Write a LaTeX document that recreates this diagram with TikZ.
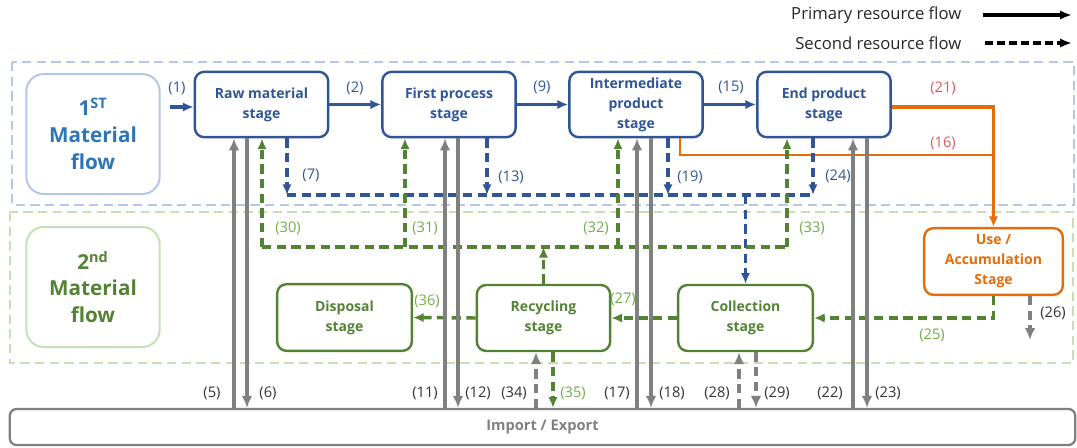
\documentclass[tikz,border=0pt]{standalone}
\usepackage{fontspec}
\setmainfont{Open Sans}
\usetikzlibrary{arrows.meta}
\definecolor{stblue}{RGB}{47,85,151}
\definecolor{zoneblue}{RGB}{180,199,231}
\definecolor{flowblue}{RGB}{46,117,182}
\definecolor{stgreen}{RGB}{84,130,53}
\definecolor{zonegreen}{RGB}{197,224,180}
\definecolor{lblgreen}{RGB}{112,173,71}
\definecolor{usorange}{RGB}{228,108,10}
\definecolor{lblred}{RGB}{220,90,90}
\definecolor{iogray}{RGB}{128,128,128}
\definecolor{lblgray}{RGB}{50,50,50}

\begin{document}
\begin{tikzpicture}[
x=0.75pt, y=-0.75pt,
stage/.style = {
	draw=stblue, line width=1.8pt, rounded corners=7pt,
	align=center, text=stblue, inner sep=0pt,
	minimum width=100pt, minimum height=49pt,
	font=\fontsize{10.5}{15}\selectfont\bfseries
	},
gstage/.style = {
	stage, draw=stgreen, text=stgreen
	},
ostage/.style = {
	stage, draw=usorange, text=usorange
	},
flowbox/.style = {
	draw=zoneblue, line width=1.5pt, rounded corners=13pt,
	align=center, text=flowblue, inner sep=0pt,
	minimum width=100pt, minimum height=90pt,
	font=\fontsize{15.5}{20}\selectfont\bfseries
	},
iobox/.style = {
	draw=iogray, line width=1.7pt, rounded corners=5pt,
	text=iogray, inner sep=0pt,
	minimum width=799pt, minimum height=27pt,
	font=\fontsize{11}{13}\selectfont\bfseries
	},
lbl/.style = {
	font=\fontsize{11}{13}\selectfont, inner sep=1pt
	},
mainArr/.style = {
	-{Latex[length=8pt,width=7pt]}, line width=2.6pt, stblue
	},
blueDash/.style = {
	line width=2.6pt, stblue, dash pattern=on 7pt off 4pt
	},
blueDashArr/.style = {
	blueDash, -{Latex[length=8pt,width=7pt]}
	},
greenDash/.style = {
	line width=2.6pt, stgreen, dash pattern=on 7pt off 4pt
	},
greenDashArr/.style = {
	greenDash, -{Latex[length=8pt,width=7pt]}
	},
useArr/.style = {
	-{Latex[length=8pt,width=7pt]}, line width=2.6pt, usorange
	},
useThin/.style = {
	line width=1.8pt, usorange
	},
grayArr/.style = {
	-{Latex[length=9pt,width=8pt]}, line width=2.8pt, iogray
	},
grayDashArr/.style = {
	grayArr, dash pattern=on 7pt off 4pt
	},
legArr/.style = {
	-{Latex[length=9pt,width=7pt]}, line width=2.6pt, black
	}
]
\useasboundingbox (0,0) rectangle (1077,447);

% ZONES
\draw [zoneblue, line width=1.2pt, dash pattern=on 7pt off 4pt] (12,62) rectangle (1074,205);
\draw [zonegreen, line width=1.2pt, dash pattern=on 7pt off 4pt] (10,212) rectangle (1073,363);

% LEGEND
\node [font=\fontsize{12.5}{15}\selectfont, anchor=east, text=black!85] (legP) at (966,15) {Primary resource flow};
\node [font=\fontsize{12.5}{15}\selectfont, anchor=east, text=black!85] (legS) at (966,43) {Second resource flow};
\coordinate (legPa) at (983,15);
\coordinate (legPb) at (1072,15);
\coordinate (legSa) at (985,43);
\coordinate (legSb) at (1072,43);
\draw [legArr] (legPa) -- (legPb);
\draw [legArr, dash pattern=on 6pt off 3pt] (legSa) -- (legSb);

% FLOW NODES
\node [flowbox] (flowA) at (93,134) {1\textsuperscript{ST}\\Material\\flow};
\node [flowbox, draw=zonegreen, text=stgreen] (flowB) at (93,287) {2\textsuperscript{nd}\\Material\\flow};

% STAGE NODES
\node [stage] (raw) at (261.5,104.5) {Raw material\\stage};
\node [stage] (first) at (449,104.5) {First process\\stage};
\node [stage] (inter) at (636,104.5) {Intermediate\\product\\stage};
\node [stage] (endp) at (824,104.5) {End product\\stage};
\node [ostage, minimum width=104pt, minimum height=50pt] (use) at (993.5,261.5) {Use /\\Accumulation\\Stage};
\node [gstage, minimum width=101pt, minimum height=50pt] (disp) at (344.5,317.5) {Disposal\\stage};
\node [gstage, minimum height=49.5pt] (recy) at (543.5,318) {Recycling\\stage};
\node [gstage, minimum width=101pt, minimum height=49.5pt] (coll) at (745.5,318) {Collection\\stage};
\node [iobox] (io) at (542.5,427) {Import / Export};

% HELPER COORDINATES
\coordinate (in1) at (170,107);
\coordinate (j16) at (995,155);
\coordinate (b7) at (287,195);
\coordinate (b13) at (487,195);
\coordinate (b19) at (668,195);
\coordinate (b24) at (813,195);
\coordinate (g30) at (262,247);
\coordinate (g31) at (405,247);
\coordinate (g32) at (618,247);
\coordinate (g33) at (787,247);
\coordinate (x5) at (234,0);
\coordinate (x6) at (247,0);
\coordinate (x11) at (445,0);
\coordinate (x12) at (458,0);
\coordinate (x17) at (637,0);
\coordinate (x18) at (651,0);
\coordinate (x22) at (853,0);
\coordinate (x23) at (867,0);
\coordinate (x34) at (536,0);
\coordinate (x35) at (553,0);
\coordinate (x28) at (739,0);
\coordinate (x29) at (756,0);
\coordinate (e26) at (1030,340);

% PRIMARY PATHS
\draw [mainArr] (in1) -- (raw.west |- in1);
\path [mainArr] (raw) edge (first) (first) edge (inter) (inter) edge (endp);
\draw [useArr] (endp.east |- in1) -| (use.north);
\draw [useThin] (inter.south -| 680,0) |- (j16);

% SECOND PATHS (BLUE)
\draw [blueDashArr] (raw.south -| b7) -- (b7);
\draw [blueDashArr] (first.south -| b13) -- (b13);
\draw [blueDashArr] (inter.south -| b19) -- (b19);
\draw [blueDashArr] (endp.south -| b24) -- (b24);
\draw [blueDash] (b7) -- (b24);
\draw [blueDashArr] (coll.north |- b7) -- (coll.north);

% SECOND PATHS (GREEN)
\draw [greenDash] (g30) -- (g33);
\draw [greenDashArr] (g30) -- (raw.south -| g30);
\draw [greenDashArr] (g31) -- (first.south -| g31);
\draw [greenDashArr] (g32) -- (inter.south -| g32);
\draw [greenDashArr] (g33) -- (endp.south -| g33);
\draw [greenDashArr] (recy.north) -- (recy.north |- g30);
\draw [greenDashArr] (use.south) |- (coll.east);
\draw [greenDashArr] (coll.west) -- (recy.east);
\draw [greenDashArr] (recy.west) -- (disp.east);
\draw [greenDashArr] (recy.south -| x35) -- (io.north -| x35);

% IMPORT / EXPORT PATHS
\draw [grayArr] (io.north -| x5) -- (raw.south -| x5);
\draw [grayArr] (raw.south -| x6) -- (io.north -| x6);
\draw [grayArr] (io.north -| x11) -- (first.south -| x11);
\draw [grayArr] (first.south -| x12) -- (io.north -| x12);
\draw [grayArr] (io.north -| x17) -- (inter.south -| x17);
\draw [grayArr] (inter.south -| x18) -- (io.north -| x18);
\draw [grayArr] (io.north -| x22) -- (endp.south -| x22);
\draw [grayArr] (endp.south -| x23) -- (io.north -| x23);
\draw [grayDashArr] (io.north -| x34) -- (recy.south -| x34);
\draw [grayDashArr] (io.north -| x28) -- (coll.south -| x28);
\draw [grayDashArr] (coll.south -| x29) -- (io.north -| x29);
\draw [grayDashArr] (use.south -| e26) -- (e26);

% LABELS
\node [lbl, text=stblue] (l1) at (177,88) {(1)};
\node [lbl, text=stblue] (l2) at (355,88) {(2)};
\node [lbl, text=stblue] (l9) at (542,87) {(9)};
\node [lbl, text=stblue] (l15) at (731,87) {(15)};
\node [lbl, text=lblred] (l21) at (943,88) {(21)};
\node [lbl, text=lblred] (l16) at (943,143) {(16)};
\node [lbl, text=stblue] (l7) at (311,175) {(7)};
\node [lbl, text=stblue] (l13) at (511,177) {(13)};
\node [lbl, text=stblue] (l19) at (690,177) {(19)};
\node [lbl, text=stblue] (l24) at (838,176) {(24)};
\node [lbl, text=lblgreen] (l30) at (288,228) {(30)};
\node [lbl, text=lblgreen] (l31) at (425,228) {(31)};
\node [lbl, text=lblgreen] (l32) at (596,228) {(32)};
\node [lbl, text=lblgreen] (l33) at (812,228) {(33)};
\node [lbl, text=lblgreen] (l36) at (427,301) {(36)};
\node [lbl, text=lblgreen] (l27) at (623,299) {(27)};
\node [lbl, text=lblgreen] (l25) at (932,335) {(25)};
\node [lbl, text=lblgray] (l26) at (1053,313) {(26)};
\node [lbl, text=lblgray] (l5) at (212,393) {(5)};
\node [lbl, text=lblgray] (l6) at (268,393) {(6)};
\node [lbl, text=lblgray] (l11) at (425,393) {(11)};
\node [lbl, text=lblgray] (l12) at (478,393) {(12)};
\node [lbl, text=lblgray] (l34) at (514,393) {(34)};
\node [lbl, text=lblgreen] (l35) at (573,393) {(35)};
\node [lbl, text=lblgray] (l17) at (617,393) {(17)};
\node [lbl, text=lblgray] (l18) at (672,393) {(18)};
\node [lbl, text=lblgray] (l28) at (717,393) {(28)};
\node [lbl, text=lblgray] (l29) at (777,393) {(29)};
\node [lbl, text=lblgray] (l22) at (830,393) {(22)};
\node [lbl, text=lblgray] (l23) at (888,393) {(23)};
\end{tikzpicture}
\end{document}
